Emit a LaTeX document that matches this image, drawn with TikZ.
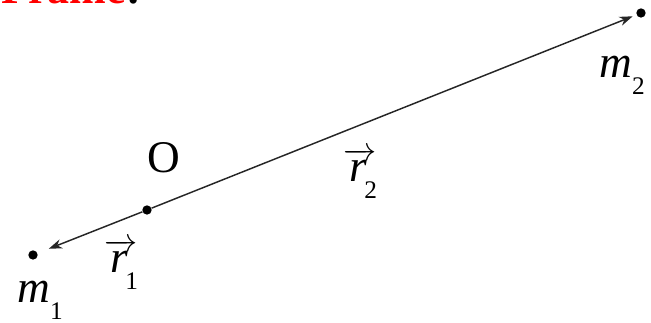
\documentclass[tikz,border=0pt]{standalone}
\usepackage{amsmath}
\usepackage{fontspec}
\setmainfont{Liberation Serif}
\usetikzlibrary{
  arrows.meta,              % Stealth 箭头
  positioning               % 节点相对定位
}

% 下标：压低并缩小的正体数字
\newcommand{\lowsub}[1]{\raisebox{-12.75pt}{\fontsize{19}{19}\selectfont #1}}
% 矢量：斜体字母加长箭头
\newcommand{\vecr}{$\overrightarrow{\kern1pt\textit{r}\kern3pt}$}

\begin{document}
\begin{tikzpicture}[>={Stealth[length=10pt, width=7pt]}, x=0.75pt, y=-0.75pt,
  mass/.style={circle, fill=black, inner sep=0pt, minimum size=7pt},
  lab/.style={font=\fontsize{34}{36}\selectfont, inner sep=0pt, anchor=base west},
  posvec/.style={->, draw=black!85, line width=1.1pt}]

  % =============== 画布范围 (651 x 323) ===============
  \useasboundingbox (0,0) rectangle (651,323);
  \clip (0,0) rectangle (651,323);

  % 顶端被截去的标题残边
  \node[anchor=base east, inner sep=0pt, text=red,
        font=\bfseries\fontsize{33}{36}\selectfont] (title) at (126,4) {Frame};
  \node[anchor=base west, inner sep=0pt,
        font=\bfseries\fontsize{33}{36}\selectfont] (colon) at (title.base east) {:};

  % =============== 质点与原点 ===============
  \node[mass] (m1) at (33,255) {};
  \node[mass] (O)  at (147,210) {};
  \node[mass] (m2) at (641,13) {};

  % 位置矢量
  \draw[posvec, shorten >=9pt] (O) -- (m1);
  \draw[posvec, shorten >=3pt] (O) -- (m2);

  % =============== 标注 ===============
  \node[lab] (Olab)  at (147,173) {O};
  \node[lab] (m1lab) at (17,303) {\textit{m}\lowsub{1}};
  \node[lab] (m2lab) at (599,78) {\textit{m}\lowsub{2}};
  \node[lab] (r1lab) at (104,273) {\vecr\kern-9pt\lowsub{1}};
  \node[lab] (r2lab) at (343,182) {\vecr\kern-9pt\lowsub{2}};

\end{tikzpicture}
\end{document}
